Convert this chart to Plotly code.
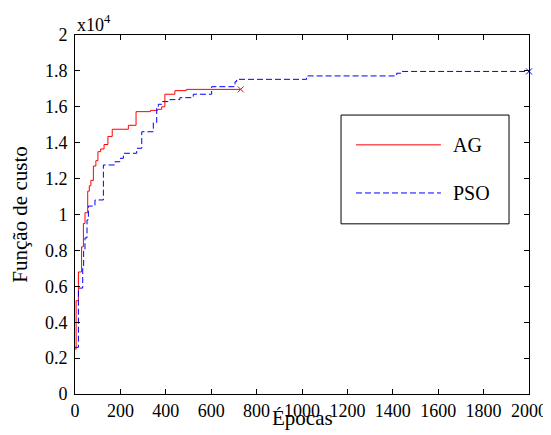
import plotly.graph_objects as go

# AG (genetic algorithm) best cost per epoch (step points)
ag_x = [0, 5, 15, 29, 37, 44, 56, 63, 70, 81, 92, 101, 113, 128, 145, 164, 235, 269, 333, 364, 382, 396, 440, 490, 730]
ag_y = [2500, 5200, 6800, 8200, 9500, 10100, 11300, 11600, 11900, 12700, 13000, 13500, 13650, 13900, 14350, 14750,
        14970, 15730, 15800, 15860, 16000, 16700, 16900, 16970, 16970]

# PSO best cost per epoch (step points)
pso_x = [0, 15, 34, 38, 44, 53, 59, 88, 125, 176, 198, 213, 272, 294, 345, 360, 367, 382, 418, 462, 521, 602, 705,
         712, 1020, 1417, 1439, 2000]
pso_y = [2600, 5900, 7000, 8000, 8700, 9700, 10470, 10810, 12760, 12940, 13130, 13410, 13690, 14610, 15120, 15920,
         16140, 16290, 16400, 16510, 16700, 17120, 17400, 17530, 17720, 17870, 17970, 17970]

series_names = ["AG", "PSO"]
x_ticks = list(range(0, 2001, 200))
y_ticks = list(range(0, 20001, 2000))
y_tick_text = ["0", "0.2", "0.4", "0.6", "0.8", "1", "1.2", "1.4", "1.6", "1.8", "2"]

FONT = "Liberation Serif, Times New Roman, Times, serif"
AG_COLOR = "red"
PSO_COLOR = "blue"
PSO_DASH = "6px,3px"

fig = go.Figure()
fig.add_trace(go.Scatter(x=ag_x, y=ag_y, mode="lines", name=series_names[0],
                         line=dict(color=AG_COLOR, width=1, shape="hv"), showlegend=False))
fig.add_trace(go.Scatter(x=pso_x, y=pso_y, mode="lines", name=series_names[1],
                         line=dict(color=PSO_COLOR, width=1, shape="hv", dash=PSO_DASH), showlegend=False))
fig.add_trace(go.Scatter(x=[ag_x[-1]], y=[ag_y[-1]], mode="markers", showlegend=False,
                         marker=dict(symbol="x-thin-open", size=6, color=AG_COLOR,
                                     line=dict(color=AG_COLOR, width=1))))
fig.add_trace(go.Scatter(x=[pso_x[-1]], y=[pso_y[-1]], mode="markers", showlegend=False, cliponaxis=False,
                         marker=dict(symbol="x-thin-open", size=6, color=PSO_COLOR,
                                     line=dict(color=PSO_COLOR, width=1))))

axis_common = dict(showline=True, linecolor="black", linewidth=1, mirror="ticks", ticks="inside", ticklen=5,
                   tickcolor="black", showgrid=False, zeroline=False, automargin=False,
                   tickfont=dict(family=FONT, size=18, color="black"))

# the page body has an 8px default margin, so the figure is 8px smaller and margins 8px tighter
fig.update_layout(
    width=543, height=427,
    margin=dict(l=67, r=22, t=27, b=41),
    paper_bgcolor="white", plot_bgcolor="white",
    font=dict(family=FONT, size=18, color="black"),
    xaxis=dict(range=[0, 2000], tickvals=x_ticks, **axis_common),
    yaxis=dict(range=[0, 20000], tickvals=y_ticks, ticktext=y_tick_text, ticklabelstandoff=3, **axis_common,
               title=dict(text="Função de custo", font=dict(family=FONT, size=21), standoff=11)),
    showlegend=False,
)

# x-axis title
fig.add_annotation(text="Épocas", xref="paper", yref="paper", x=0.5, y=-0.067, xanchor="center", yanchor="middle",
                   showarrow=False, font=dict(family=FONT, size=21))
# exponent label
fig.add_annotation(text="x10<sup>4</sup>", xref="paper", yref="paper", x=0, y=1, xanchor="left", yanchor="bottom",
                   showarrow=False, font=dict(family=FONT, size=18), yshift=-2)

# legend box (drawn like the original figure's legend)
fig.add_shape(type="rect", xref="paper", yref="paper", x0=0.586, x1=0.956, y0=0.474, y1=0.777,
              line=dict(color="black", width=1), fillcolor="white", layer="above")
legend_rows = [(series_names[0], AG_COLOR, "solid", 0.694), (series_names[1], PSO_COLOR, PSO_DASH, 0.560)]
for name, color, dash, ypos in legend_rows:
    fig.add_shape(type="line", xref="paper", yref="paper", x0=0.619, x1=0.806, y0=ypos, y1=ypos,
                  line=dict(color=color, width=1, dash=dash), layer="above")
    fig.add_annotation(text=name, xref="paper", yref="paper", x=0.828, y=ypos, xanchor="left", yanchor="middle",
                       showarrow=False, font=dict(family=FONT, size=20))

fig.write_html("out.html")
